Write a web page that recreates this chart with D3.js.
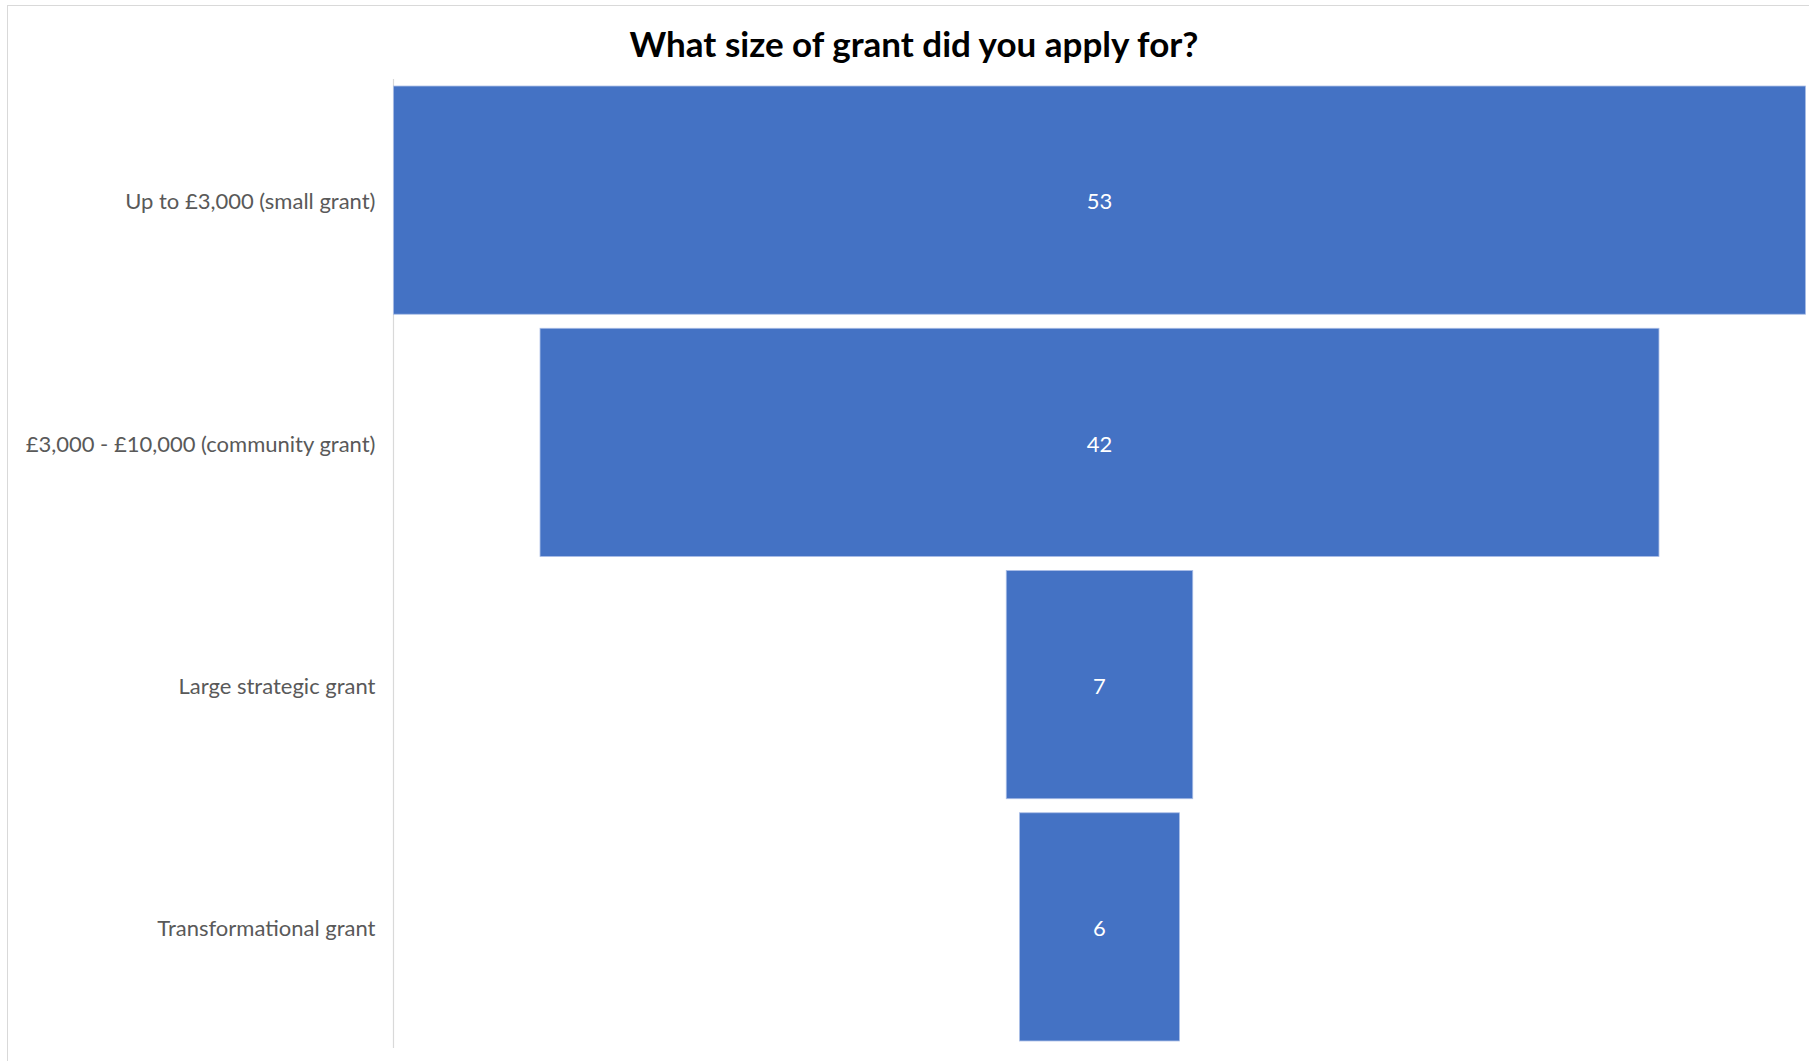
<!DOCTYPE html>
<html>
<head>
<meta charset="utf-8">
<script src="https://cdn.jsdelivr.net/npm/d3@7"></script>
<style>
  html, body { margin: 0; padding: 0; background: #ffffff; }
  svg { display: block; }
</style>
</head>
<body>
<svg id="chart" width="1809" height="1061"></svg>
<script>
// Survey answers shown as a funnel, widest stage at the top
const categories = [
  "Up to £3,000 (small grant)",
  "£3,000 - £10,000 (community grant)",
  "Large strategic grant",
  "Transformational grant"
];
const counts = [53, 42, 7, 6];
const chartTitle = "What size of grant did you apply for?";

const W = 1809, H = 1061;
const plot = { left: 393.5, right: 1805.5, top: 79, bottom: 1048 };
const centerX = (plot.left + plot.right) / 2;
const fontFamily = "Lato, 'Open Sans', 'Liberation Sans', sans-serif";

const svg = d3.select("#chart");

// Chart area frame
svg.append("rect")
  .attr("x", 7.5).attr("y", 5.5)
  .attr("width", W + 10).attr("height", H + 10)
  .attr("fill", "#ffffff")
  .attr("stroke", "#d9d9d9")
  .attr("stroke-width", 1);

// Title
svg.append("text")
  .attr("x", 914)
  .attr("y", 57)
  .attr("text-anchor", "middle")
  .attr("font-family", fontFamily)
  .attr("font-weight", 700)
  .attr("font-size", 35)
  .attr("fill", "#000000")
  .text(chartTitle);

// Scales
const y = d3.scaleBand()
  .domain(categories)
  .range([plot.top, plot.bottom])
  .paddingInner(0.058)
  .paddingOuter(0.029);

const widthScale = d3.scaleLinear()
  .domain([0, d3.max(counts)])
  .range([0, plot.right - plot.left]);

const rows = categories.map((c, i) => ({ category: c, value: counts[i] }));

// Category axis on the left
const yAxis = d3.axisLeft(y).tickSize(0).tickPadding(18);
const axisG = svg.append("g")
  .attr("transform", `translate(${plot.left},0)`)
  .call(yAxis);
axisG.select(".domain")
  .attr("stroke", "#d9d9d9")
  .attr("stroke-width", 1.2)
  .attr("d", `M0,${plot.top}V${plot.bottom}`);
axisG.selectAll(".tick text")
  .attr("font-family", fontFamily)
  .attr("font-size", 22)
  .attr("dy", "0.42em")
  .attr("fill", "#595959");

// Funnel bars, centred horizontally
svg.append("g")
  .selectAll("rect")
  .data(rows)
  .join("rect")
  .attr("x", d => centerX - widthScale(d.value) / 2)
  .attr("y", d => y(d.category))
  .attr("width", d => widthScale(d.value))
  .attr("height", y.bandwidth())
  .attr("fill", "#4472c4")
  .attr("stroke", "#a9bde6")
  .attr("stroke-width", 0.8);

// Value labels inside each bar
svg.append("g")
  .selectAll("text")
  .data(rows)
  .join("text")
  .attr("x", centerX)
  .attr("y", d => y(d.category) + y.bandwidth() / 2)
  .attr("dy", "0.42em")
  .attr("text-anchor", "middle")
  .attr("font-family", fontFamily)
  .attr("font-size", 22)
  .attr("fill", "#ffffff")
  .text(d => d.value);
</script>
</body>
</html>
